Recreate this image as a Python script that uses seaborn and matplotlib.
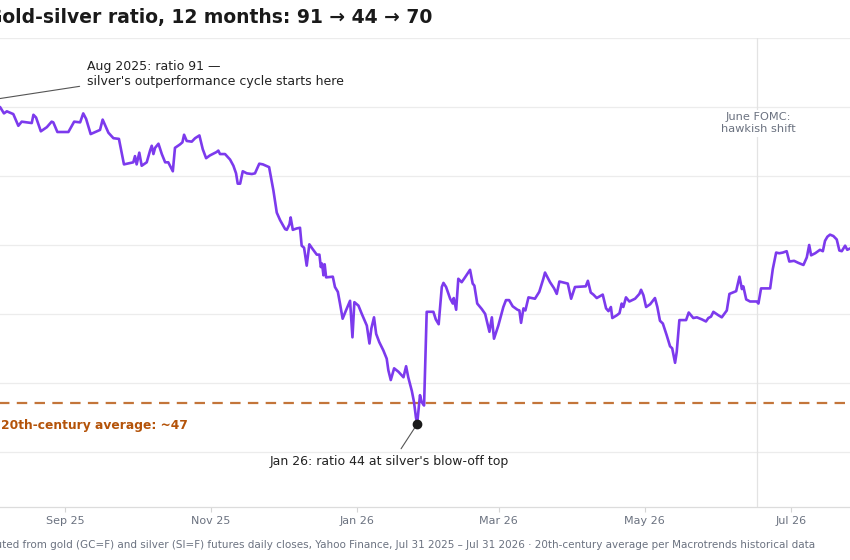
import matplotlib
matplotlib.use("Agg")
import matplotlib.pyplot as plt
import matplotlib.dates as mdates
import pandas as pd
import seaborn as sns

# days after Jul 31 2025
start = pd.Timestamp("2025-07-31")
day = [0.0, 4.9, 6.5, 7.7, 9.0, 10.4, 12.5, 13.9, 16.0, 18.1, 18.8, 19.9, 21.9, 24.4, 26.4, 27.1,
       28.8, 33.4, 35.8, 38.3, 39.6, 40.8, 42.7, 46.6, 47.7, 50.1, 52.2, 54.5, 56.6, 59.1, 60.5,
       61.2, 61.9, 63.0, 64.0, 66.1, 67.5, 68.2, 68.9, 69.6, 71.0, 72.4, 73.8, 75.1, 77.0, 77.9,
       80.0, 81.0, 81.7, 82.8, 84.9, 86.3, 88.1, 89.5, 90.9, 92.5, 95.3, 96.0, 96.7, 98.8, 100.9,
       102.3, 103.4, 104.1, 105.1, 106.2, 107.9, 110.0, 111.3, 113.1, 114.6, 117.2, 119.0, 120.4,
       121.8, 123.9, 124.6, 125.7, 126.2, 127.1, 128.7, 130.1, 130.8, 131.8, 132.9, 134.0, 135.4,
       137.1, 138.2, 138.8, 139.3, 139.9, 140.4, 141.0, 143.8, 144.7, 145.9, 146.8, 147.9, 149.3,
       151.0, 152.0, 152.8, 154.5, 155.9, 158.0, 159.1, 159.9, 161.0, 161.9, 163.2, 164.9, 166.3,
       167.0, 168.0, 169.4, 171.2, 173.3, 174.4, 175.3, 176.8, 177.7, 178.5, 179.0, 180.2, 180.9,
       181.9, 183.0, 185.8, 186.8, 188.0, 189.3, 190.0, 191.1, 192.8, 193.9, 194.3, 195.3, 196.2,
       197.6, 199.0, 201.1, 202.2, 202.9, 204.1, 206.0, 207.4, 209.2, 210.2, 211.1, 212.9, 215.0,
       216.1, 217.4, 218.9, 220.9, 221.7, 222.4, 223.4, 224.2, 225.5, 228.2, 230.0, 231.7, 232.4,
       234.5, 236.2, 237.3, 238.4, 241.9, 243.3, 244.9, 249.4, 250.3, 251.5, 252.6, 254.0, 256.5,
       257.9, 258.9, 259.9, 260.5, 262.4, 263.5, 264.4, 265.1, 266.2, 267.6, 270.0, 271.8, 272.5,
       273.5, 274.6, 276.3, 278.3, 279.3, 280.4, 281.6, 283.2, 284.6, 285.5, 286.7, 287.4, 288.5,
       291.3, 292.4, 294.3, 295.8, 297.9, 299.6, 300.6, 301.7, 302.7, 304.8, 306.2, 308.3, 309.4,
       310.8, 312.2, 313.6, 314.6, 315.2, 316.4, 318.0, 319.4, 320.8, 321.5, 322.6, 326.4, 327.5,
       328.9, 330.2, 331.7, 333.3, 334.4, 336.4, 338.2, 340.3, 341.7, 342.7, 343.5, 345.2, 347.2,
       348.4, 349.3, 350.3, 351.4, 352.8, 354.2, 355.3, 356.3, 357.7, 358.6, 359.8, 362.7, 365.0]
ratio = [91.0, 90.0, 89.1, 89.4, 89.2, 89.0, 87.3, 87.9, 87.8, 87.7, 88.9, 88.5, 86.5, 87.1, 87.9, 87.8,
         86.4, 86.4, 87.9, 87.8, 89.1, 88.3, 86.1, 86.7, 88.2, 86.3, 85.5, 85.4, 81.7, 81.9, 82.0,
         82.9, 81.7, 83.4, 81.5, 82.0, 83.7, 84.4, 83.2, 84.1, 84.7, 83.2, 82.0, 82.0, 80.7, 84.1,
         84.6, 84.9, 86.0, 85.1, 85.0, 85.5, 85.9, 83.9, 82.6, 83.0, 83.5, 83.7, 83.2, 83.2, 82.4,
         81.5, 80.4, 78.9, 78.9, 80.7, 80.4, 80.3, 80.4, 81.8, 81.7, 81.3, 77.9, 74.7,
         73.6, 72.3, 72.2, 73.0, 74.0, 72.2, 72.4, 72.5, 69.9, 69.6, 67.0, 70.1, 69.4,
         68.6, 68.6, 66.8, 67.3, 65.6, 67.2, 65.3, 65.4, 63.9, 63.2, 61.5, 59.3, 60.5,
         61.9, 56.6, 61.7, 61.2, 60.0, 58.3, 55.7, 57.9, 59.5, 57.1, 55.9, 54.7, 53.5,
         51.8, 50.4, 52.1, 51.6, 50.8, 52.4, 50.8, 48.8, 47.2, 45.0, 44.0, 48.2, 47.2,
         46.7, 60.3, 60.3, 59.2, 58.5, 63.9, 64.5, 63.9, 62.2, 61.5, 62.3, 60.6, 65.1,
         64.6, 65.3, 66.4, 64.4, 64.1, 61.5, 60.7, 60.0, 57.4, 59.5, 56.4, 58.3, 61.0,
         62.0, 62.0, 61.1, 60.6, 60.5, 58.7, 60.8, 60.5, 62.4, 62.2, 63.2, 65.1, 66.0,
         64.6, 63.7, 62.9, 64.7, 64.4, 62.2, 63.9, 64.0, 64.8, 63.1, 62.8, 62.3, 62.8,
         60.8, 60.4, 61.0, 59.4, 59.8, 60.1, 61.5, 61.0, 62.4, 61.8, 62.2, 62.9, 63.5,
         62.7, 61.0, 61.4, 62.3, 61.0, 59.0, 58.6, 56.9, 55.3, 55.0, 52.9, 54.5, 59.1,
         59.1, 60.2, 59.4, 59.5, 59.2, 58.9, 59.4, 59.6, 60.3, 59.8, 59.5, 60.5, 62.9,
         63.1, 63.3, 65.4, 63.6, 64.0, 62.1, 61.8, 61.8, 61.8, 61.5, 63.7, 63.7, 66.5,
         68.9, 68.8, 68.9, 69.1, 67.6, 67.7, 67.4, 67.1, 68.2, 70.0, 68.5, 68.8, 69.3,
         69.1, 70.6, 71.2, 71.5, 71.3, 70.8, 69.2, 69.1, 69.9, 69.3, 69.5, 69.7, 70.0]

low_day, low_value = 179, 44.0
fomc_day = 321
century_avg = 47

title = "Gold-silver ratio, 12 months: 91 \u2192 44 \u2192 70"
note_start = "Aug 2025: ratio 91 \u2014\nsilver's outperformance cycle starts here"
note_low = "Jan 26: ratio 44 at silver's blow-off top"
note_fomc = "June FOMC:\nhawkish shift"
note_avg = "20th-century average: ~47"
caption = ("Computed from gold (GC=F) and silver (SI=F) futures daily closes, Yahoo Finance, "
           "Jul 31 2025 \u2013 Jul 31 2026 \u00b7 20th-century average per Macrotrends historical data")

purple = "#7c3aed"
amber = "#b45309"
grey = "#6b7280"

df = pd.DataFrame({"date": start + pd.to_timedelta(day, unit="D"), "ratio": ratio})

sns.set_theme(style="whitegrid")
plt.rcParams["font.family"] = ["DejaVu Sans"]

W, H = 850, 560
fig = plt.figure(figsize=(W / 100, H / 100), dpi=100)
# the picture is cropped on the left: the axes start just outside the canvas
ax_left, ax_right, ax_top, ax_bottom = -11.6, 862.6, 38.3, 506.8
ax = fig.add_axes([ax_left / W, 1 - ax_bottom / H, (ax_right - ax_left) / W, (ax_bottom - ax_top) / H])

sns.lineplot(data=df, x="date", y="ratio", ax=ax, color=purple, linewidth=1.9, zorder=4)

ax.axhline(century_avg, color=amber, alpha=0.8, lw=1.6, ls=(0, (4.7, 3.3)), zorder=3)
fomc = start + pd.Timedelta(days=fomc_day)
ax.axvline(fomc, color="#e3e3e3", lw=0.9, zorder=1)

low = start + pd.Timedelta(days=low_day)
ax.plot([low], [low_value], marker="o", markersize=6, color="#1a1a1a", zorder=6)

ax.set_xlim(start, start + pd.Timedelta(days=365))
ax.set_ylim(32, 100)
ax.set_yticks(range(40, 101, 10))
ax.set_xlabel("")
ax.set_ylabel("")
ax.xaxis.set_major_locator(mdates.MonthLocator(bymonth=[1, 3, 5, 7, 9, 11]))
ax.xaxis.set_major_formatter(mdates.DateFormatter("%b %y"))
ax.tick_params(axis="x", colors="#d5d5d5", labelcolor=grey, labelsize=8, length=3.5, width=0.8,
               bottom=True, pad=3)
ax.tick_params(axis="y", left=False, labelleft=False)
ax.grid(axis="x", visible=False)
ax.grid(axis="y", color="#ececec", lw=0.9)
for side in ["left", "right", "top"]:
    ax.spines[side].set_visible(False)
ax.spines["bottom"].set_color("#dcdcdc")
ax.spines["bottom"].set_linewidth(0.9)

line_kw = dict(arrowstyle="-", color="#555555", lw=0.8, shrinkA=3, shrinkB=2)
ax.annotate(note_start, xy=(start, ratio[0]), xytext=(87 / W, 1 - 74 / H), textcoords="figure fraction",
            ha="left", va="center", fontsize=9, color="#222222", annotation_clip=False,
            arrowprops=dict(relpos=(0, 0.1), **line_kw))
ax.annotate(note_low, xy=(low, low_value), xytext=(389.5 / W, 1 - 462 / H), textcoords="figure fraction",
            ha="center", va="center", fontsize=9, color="#222222",
            arrowprops=dict(relpos=(0.53, 1), **line_kw))

fig.text(758 / W, 1 - 123.5 / H, note_fomc, ha="center", va="center", fontsize=8.2, color=grey,
         linespacing=1.25, bbox=dict(facecolor="white", edgecolor="none", pad=1.5))
fig.text(1 / W, 1 - 426 / H, note_avg, ha="left", va="center", fontsize=8.85, color=amber,
         fontweight="bold")
fig.text(-13 / W, 1 - 22.7 / H, title, ha="left", va="baseline", fontsize=13.5, fontweight="bold",
         color="#1a1a1a")
fig.text(815 / W, 1 - 545 / H, caption, ha="right", va="center", fontsize=7.47, color=grey)

fig.savefig("out.png", dpi=100)
